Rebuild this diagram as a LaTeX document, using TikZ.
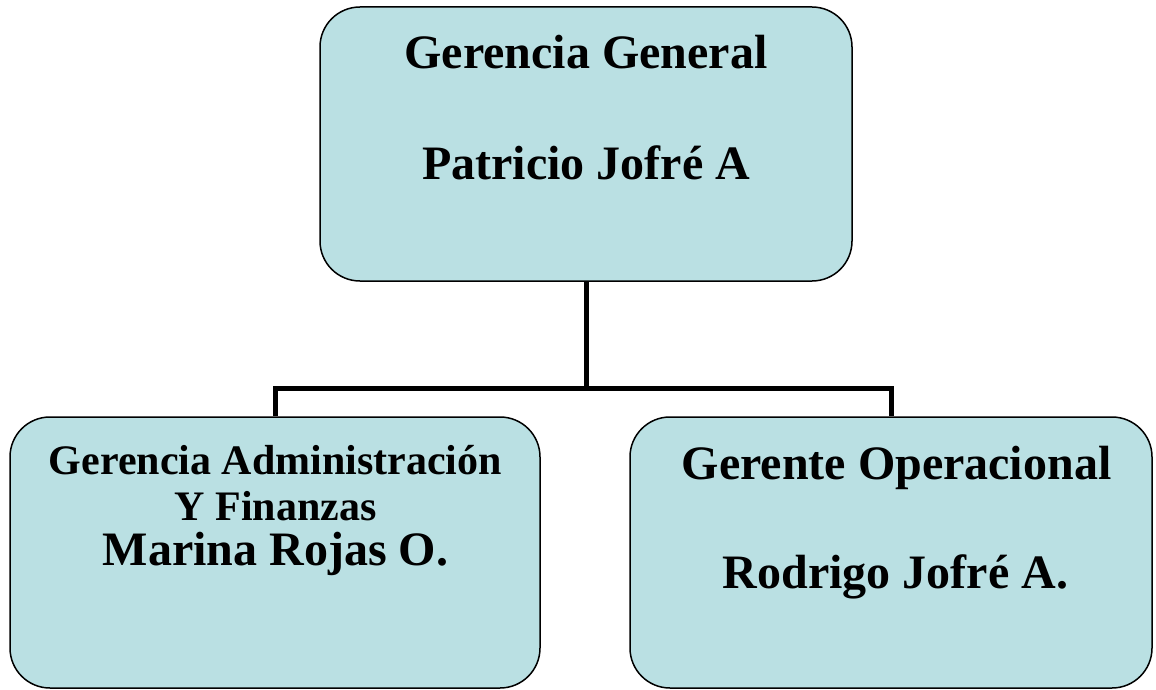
\documentclass[tikz,border=0pt]{standalone}
\usepackage{fontspec}
\setmainfont{Liberation Serif}
\usetikzlibrary{positioning}
\definecolor{boxfill}{RGB}{186,224,227}

\tikzset{
  orgbox/.style={rectangle, draw=black, fill=boxfill, line width=0.75pt, rounded corners=20pt, inner sep=0pt},
  bigtxt/.style={anchor=base, inner sep=0pt, font=\fontsize{24}{28}\selectfont\bfseries},
  smalltxt/.style={anchor=base, inner sep=0pt, font=\fontsize{21}{25}\selectfont\bfseries},
  link/.style={line width=2.5pt}
}

\begin{document}
\begin{tikzpicture}[x=0.5pt,y=-0.5pt]
  \useasboundingbox (0,0) rectangle (1156,690);
  % cajas
  \node[orgbox, minimum width=266pt, minimum height=137pt] (gg) at (586,144) {};
  \node[orgbox, minimum width=265pt, minimum height=135.5pt] (gaf) at (275,552.5) {};
  \node[orgbox, minimum width=261pt, minimum height=135.5pt] (gop) at (891,552.5) {};
  % conexiones
  \coordinate (bus) at (586,388);
  \draw[link] (gg.south) -- (bus);
  \draw[link] (bus) -| (gaf.north);
  \draw[link] (bus) -| (gop.north);
  % textos
  \node[bigtxt] (ggtit) at (586,69) {Gerencia General};
  \node[bigtxt] (ggnom) at (586,179) {Patricio Jofré A};
  \node[smalltxt] (gaftit) at (275.5,474) {Gerencia Administración};
  \node[smalltxt] (gafsub) at (275.5,520) {Y Finanzas};
  \node[bigtxt] (gafnom) at (275.5,565) {Marina Rojas O.};
  \node[bigtxt] (goptit) at (896.5,479) {Gerente Operacional};
  \node[bigtxt] (gopnom) at (895.5,588) {Rodrigo Jofré A.};
\end{tikzpicture}
\end{document}
